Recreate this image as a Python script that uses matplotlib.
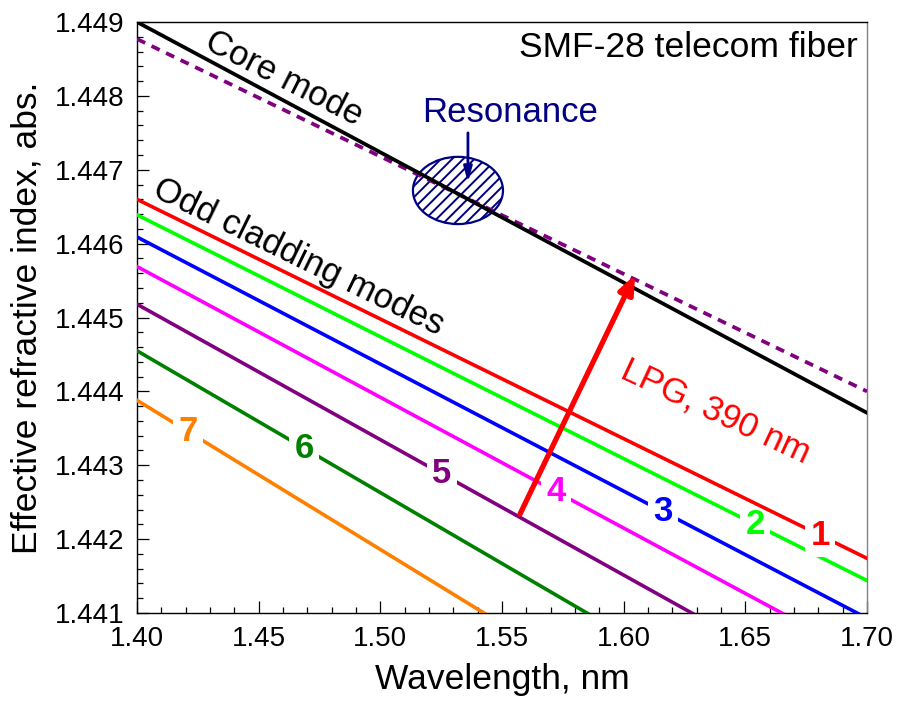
import matplotlib
matplotlib.use("Agg")
import matplotlib.pyplot as plt
from matplotlib.patches import Ellipse
from matplotlib.ticker import MultipleLocator
import numpy as np

plt.rcParams['font.family'] = ['Liberation Sans', 'DejaVu Sans']
plt.rcParams['hatch.linewidth'] = 1.4

# wavelength grid (end points of the straight dispersion lines)
wl = np.array([1.40, 1.70])

# fundamental core mode and the core mode shifted by the grating (dashed)
core_n = np.array([1.44900, 1.44371])
core_shift_n = np.array([1.44877, 1.44400])

# odd cladding modes 1..7
mode_labels = ['1', '2', '3', '4', '5', '6', '7']
clad_n = [
    [1.44660, 1.44174],
    [1.44639, 1.44144],
    [1.44609, 1.44093],
    [1.44569, 1.44038],
    [1.44518, 1.43968],
    [1.44455, 1.43879],
    [1.44388, 1.43782],
]
mode_colors = ['#ff0000', '#00ff00', '#0000ff', '#ff00ff', '#800080', '#008000', '#ff8000']
# where each mode number sits along its line
label_wl = [1.6807, 1.6540, 1.6162, 1.5722, 1.5253, 1.4686, 1.4210]

# grating vector arrow and resonance spot
lpg_start = (1.5574, 1.44234)
lpg_end = (1.6047, 1.44558)
res_center = (1.5319, 1.44672)
res_size = (0.037, 0.00091)

fig = plt.figure(figsize=(9.02, 7.06), dpi=100)
ax = fig.add_axes([0.1519, 0.1317, 0.8093, 0.8371])

ax.plot(wl, core_n, color='black', lw=2.7, zorder=12)
ax.plot(wl, core_shift_n, color='#800080', lw=2.7, ls=(0, (2.4, 1.9)), zorder=11)

for i, (n, c, lab, lw_) in enumerate(zip(clad_n, mode_colors, mode_labels, label_wl)):
    z = 10 - i
    ax.plot(wl, n, color=c, lw=2.6, zorder=z)
    y_lab = np.interp(lw_, wl, n)
    ax.text(lw_, y_lab, lab, color=c, fontsize=25, fontweight='bold',
            ha='center', va='center', zorder=z + 0.5,
            bbox=dict(boxstyle='square,pad=0.15', fc='white', ec='none'))

# resonance region
ell = Ellipse(res_center, res_size[0], res_size[1], facecolor='white',
              edgecolor='#000080', hatch='///', lw=1.6, zorder=1.5)
ax.add_patch(ell)
ax.annotate('', xy=(1.5360, 1.44683), xytext=(1.5360, 1.44750),
            arrowprops=dict(arrowstyle='-|>,head_length=0.9,head_width=0.25',
                            color='#000080', lw=2.0, shrinkA=0, shrinkB=0),
            zorder=20)
ax.text(1.5533, 1.44777, 'Resonance', color='#000080', fontsize=25,
        ha='center', va='center', zorder=20)

# grating vector
ax.annotate('', xy=lpg_end, xytext=lpg_start,
            arrowprops=dict(arrowstyle='-|>,head_length=1.1,head_width=0.45',
                            color='#ff0000', lw=3.8, shrinkA=0, shrinkB=0),
            zorder=20)
ax.text(1.6380, 1.44373, 'LPG, 390 nm', color='#ff0000', fontsize=25,
        rotation=-25, ha='center', va='center', rotation_mode='anchor', zorder=20)

ax.text(1.4604, 1.44824, 'Core mode', color='black', fontsize=25,
        rotation=-27, ha='center', va='center', rotation_mode='anchor', zorder=20)
ax.text(1.4662, 1.44582, 'Odd cladding modes', color='black', fontsize=25,
        rotation=-26, ha='center', va='center', rotation_mode='anchor', zorder=20)
ax.text(0.988, 0.985, 'SMF-28 telecom fiber', transform=ax.transAxes,
        fontsize=25.5, ha='right', va='top', zorder=20)

ax.set_xlim(1.40, 1.70)
ax.set_ylim(1.441, 1.449)
ax.xaxis.set_major_locator(MultipleLocator(0.05))
ax.xaxis.set_minor_locator(MultipleLocator(0.01))
ax.yaxis.set_major_locator(MultipleLocator(0.001))
ax.yaxis.set_minor_locator(MultipleLocator(0.0002))
ax.xaxis.set_major_formatter(plt.FormatStrFormatter('%.2f'))
ax.yaxis.set_major_formatter(plt.FormatStrFormatter('%.3f'))
ax.tick_params(which='both', direction='in', top=False, right=False,
               labelsize=20, pad=9, width=0.9)
ax.tick_params(which='major', length=8.6)
ax.tick_params(which='minor', length=4.3)
for s in ax.spines.values():
    s.set_linewidth(1.0)
ax.spines['right'].set_color('#808080')

ax.set_xlabel('Wavelength, nm', fontsize=25.5, labelpad=8)
ax.set_ylabel('Effective refractive index, abs.', fontsize=25.5, labelpad=8)

fig.savefig('out.png', dpi=100)
